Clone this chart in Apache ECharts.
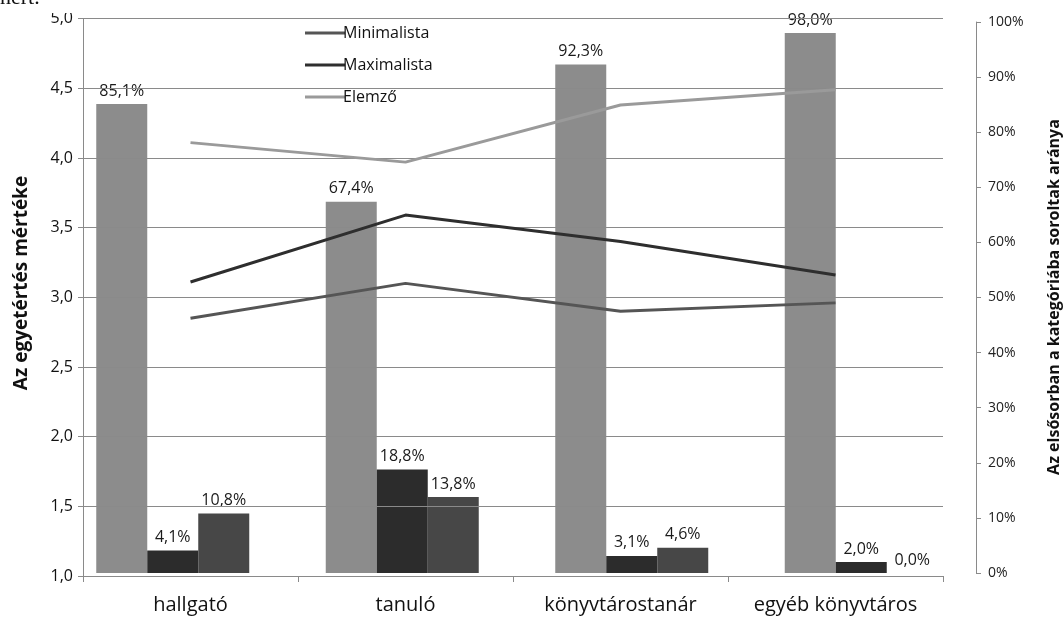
<!DOCTYPE html>
<html><head><meta charset="utf-8">
<script src="https://cdn.jsdelivr.net/npm/echarts@6/dist/echarts.min.js"></script>
<style>html,body{margin:0;padding:0;background:#fff}#c{width:1064px;height:622px}</style>
</head><body><div id="c"></div>
<script>
const categories = ['hallgató', 'tanuló', 'könyvtárostanár', 'egyéb könyvtáros'];
// share of respondents (right axis, %)
const barElemzo = [85.1, 67.4, 92.3, 98.0];
const barMaximalista = [4.1, 18.8, 3.1, 2.0];
const barMinimalista = [10.8, 13.8, 4.6, 0.0];
// agreement level (left axis)
const lineMinimalista = [2.85, 3.10, 2.90, 2.96];
const lineMaximalista = [3.11, 3.59, 3.40, 3.16];
const lineElemzo = [4.11, 3.97, 4.38, 4.49];
const leftTicks = { min: 1, max: 5, interval: 0.5 };
const rightTicks = { min: 0, max: 100, interval: 10 };

const FONT = 'Open Sans';
const fmtComma = v => (Math.round(v * 10) / 10).toFixed(1).replace('.', ',');
const barLabel = {
  show: true, position: 'top', distance: 5, color: '#1a1a1a', fontFamily: FONT, fontSize: 16,
  formatter: p => fmtComma(p.value) + '%'
};

const chart = echarts.init(document.getElementById('c'), null, { renderer: 'canvas' });
chart.setOption({
  animation: false,
  backgroundColor: '#fff',
  grid: [
    { left: 83, right: 121, top: 18.6, bottom: 46 },
    { left: 58, right: 88, top: 22, bottom: 49 }
  ],
  legend: {
    data: ['Minimalista', 'Maximalista', 'Elemző'],
    orient: 'vertical', left: 300, top: 20, itemWidth: 40, itemHeight: 3, itemGap: 16,
    icon: 'rect',
    textStyle: { fontFamily: FONT, fontSize: 16, color: '#111', padding: [0, 0, 0, -7] }
  },
  xAxis: [
    {
      type: 'category', gridIndex: 0, data: categories, boundaryGap: true,
      axisLine: { show: true, lineStyle: { color: '#8a8a8a', width: 1 } },
      axisTick: { show: true, length: 6, lineStyle: { color: '#8a8a8a' } },
      axisLabel: { fontFamily: FONT, fontSize: 20, color: '#111', margin: 19 }
    },
    { type: 'category', gridIndex: 1, data: categories, show: false }
  ],
  yAxis: [
    {
      type: 'value', gridIndex: 0, position: 'left', z: 3,
      min: leftTicks.min, max: leftTicks.max, interval: leftTicks.interval,
      axisLine: { show: true, lineStyle: { color: '#8a8a8a' } },
      axisTick: { show: true, length: 5, lineStyle: { color: '#8a8a8a' } },
      splitLine: { show: true, lineStyle: { color: '#8a8a8a', width: 1 } },
      axisLabel: { fontFamily: FONT, fontSize: 16, color: '#111', margin: 10, formatter: v => fmtComma(v) }
    },
    {
      type: 'value', gridIndex: 1, position: 'right',
      min: rightTicks.min, max: rightTicks.max, interval: rightTicks.interval,
      axisLine: { show: true, lineStyle: { color: '#8a8a8a' } },
      axisTick: { show: true, length: 5, lineStyle: { color: '#8a8a8a' } },
      splitLine: { show: false },
      axisLabel: { fontFamily: FONT, fontSize: 14, color: '#222', margin: 12, formatter: '{value}%' }
    }
  ],
  series: [
    { name: 'Elemző arány', type: 'bar', xAxisIndex: 1, yAxisIndex: 1, data: barElemzo,
      barWidth: 51, barGap: '0%', itemStyle: { color: '#8c8c8c' }, label: barLabel, z: 2 },
    { name: 'Maximalista arány', type: 'bar', xAxisIndex: 1, yAxisIndex: 1, data: barMaximalista,
      barWidth: 51, barGap: '0%', itemStyle: { color: '#2c2c2c' }, label: barLabel, z: 2 },
    { name: 'Minimalista arány', type: 'bar', xAxisIndex: 1, yAxisIndex: 1, data: barMinimalista,
      barWidth: 51, barGap: '0%', itemStyle: { color: '#474747' }, label: barLabel, z: 2 },
    { name: 'Minimalista', type: 'line', xAxisIndex: 0, yAxisIndex: 0, data: lineMinimalista,
      symbol: 'none', lineStyle: { color: '#555555', width: 3 }, itemStyle: { color: '#555555' }, z: 5 },
    { name: 'Maximalista', type: 'line', xAxisIndex: 0, yAxisIndex: 0, data: lineMaximalista,
      symbol: 'none', lineStyle: { color: '#2e2e2e', width: 3 }, itemStyle: { color: '#2e2e2e' }, z: 5 },
    { name: 'Elemző', type: 'line', xAxisIndex: 0, yAxisIndex: 0, data: lineElemzo,
      symbol: 'none', lineStyle: { color: '#9a9a9a', width: 3 }, itemStyle: { color: '#9a9a9a' }, z: 5 }
  ],
  graphic: [
    { type: 'rect', z: 100, shape: { x: 45, y: 0, width: 1019, height: 13 }, style: { fill: '#fff' } },
    { type: 'text', z: 101, x: 0, y: -13, style: { text: 'nert.', font: '22px "Liberation Serif"', fill: '#111' } },
    { type: 'text', z: 50, x: 22, y: 283, rotation: Math.PI / 2,
      style: { text: 'Az egyetértés mértéke', font: 'bold 19px "Open Sans"', fill: '#111', textAlign: 'center', textVerticalAlign: 'middle' } },
    { type: 'text', z: 50, x: 1054, y: 297, rotation: Math.PI / 2,
      style: { text: 'Az elsősorban a kategóriába soroltak aránya', font: 'bold 16px "Open Sans"', fill: '#111', textAlign: 'center', textVerticalAlign: 'middle' } }
  ]
});
</script></body></html>
